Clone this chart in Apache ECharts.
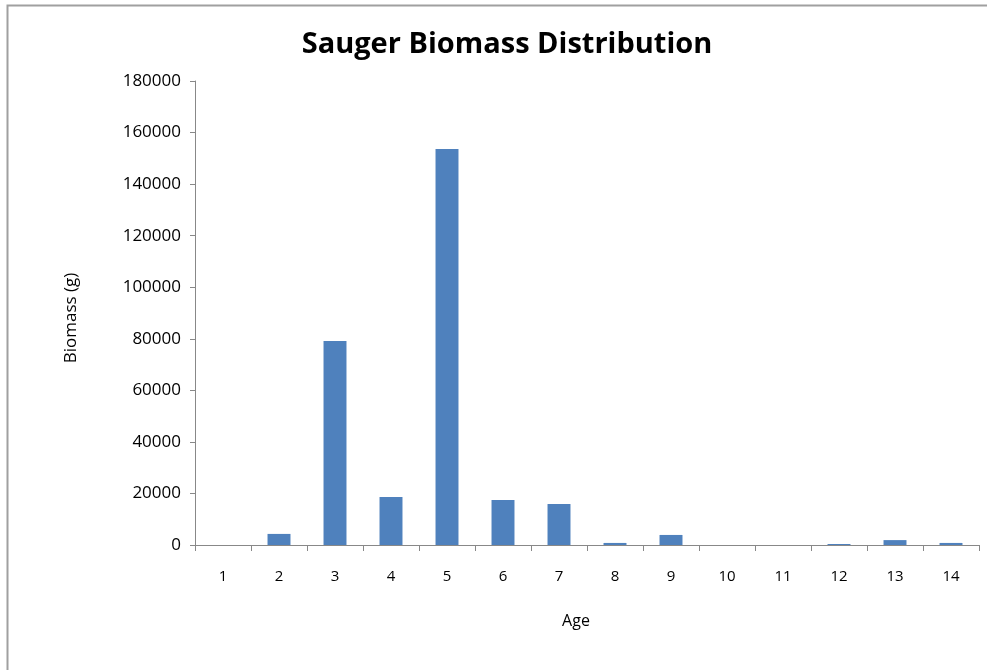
<!DOCTYPE html>
<html>
<head>
<meta charset="utf-8">
<script src="https://cdn.jsdelivr.net/npm/echarts@6/dist/echarts.min.js"></script>
<style>
  html, body { margin: 0; padding: 0; background: #fff; }
  #chart { width: 987px; height: 670px; }
</style>
</head>
<body>
<div id="chart"></div>
<script>
// 年龄组与生物量 (g)
const ages = ['1', '2', '3', '4', '5', '6', '7', '8', '9', '10', '11', '12', '13', '14'];
const biomass = [0, 4300, 79100, 18600, 153600, 17500, 15900, 800, 3900, 0, 0, 400, 1900, 800];
const yMax = 180000;
const yStep = 20000;

const chart = echarts.init(document.getElementById('chart'));
const font = 'Open Sans, Liberation Sans, sans-serif';
chart.setOption({
    animation: false,
    title: {
        text: 'Sauger Biomass Distribution',
        left: 502,
        top: 25,
        textAlign: 'center',
        textStyle: { fontFamily: font, fontSize: 29, fontWeight: 'bold', color: '#000' }
    },
    graphic: [{
        type: 'rect',
        shape: { x: 7.5, y: 5.5, width: 1000, height: 700 },
        style: { fill: 'none', stroke: '#a0a0a0', lineWidth: 2 }
    }],
    grid: { left: 195, right: 8, top: 81, bottom: 125 },
    xAxis: {
        type: 'category',
        data: ages,
        name: 'Age',
        nameLocation: 'middle',
        nameGap: 68,
        nameTextStyle: { fontFamily: font, fontSize: 16, color: '#000', padding: [0, 22, 0, 0] },
        axisLine: { lineStyle: { color: '#888', width: 1 } },
        axisTick: { show: true, length: 6, lineStyle: { color: '#888' } },
        axisLabel: { fontFamily: font, fontSize: 15, color: '#000', margin: 24 }
    },
    yAxis: {
        type: 'value',
        min: 0,
        max: yMax,
        interval: yStep,
        name: 'Biomass (g)',
        nameLocation: 'middle',
        nameGap: 115,
        nameRotate: 90,
        nameTextStyle: { fontFamily: font, fontSize: 17, color: '#000', padding: [0, 10, 0, 0] },
        axisLine: { show: true, lineStyle: { color: '#888', width: 1 } },
        axisTick: { show: true, length: 5, inside: false, lineStyle: { color: '#888' } },
        splitLine: { show: false },
        axisLabel: { fontFamily: font, fontSize: 17, color: '#000', margin: 14, formatter: (v) => String(v) }
    },
    series: [{
        type: 'bar',
        data: biomass,
        barWidth: '41%',
        itemStyle: { color: '#4f81bd' }
    }]
});
</script>
</body>
</html>
